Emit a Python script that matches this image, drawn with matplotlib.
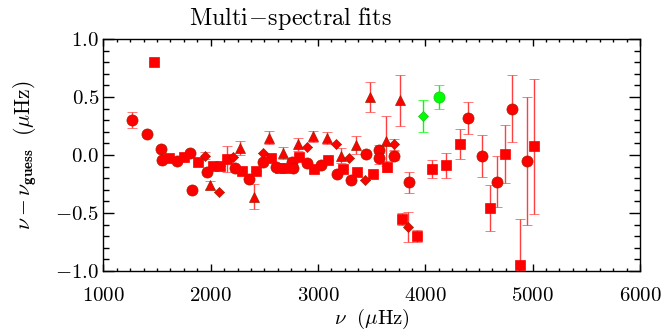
import matplotlib
matplotlib.use('Agg')
import matplotlib.pyplot as plt
from matplotlib.ticker import MultipleLocator

# red circles: frequency (muHz), offset, error
circ_x = [1263, 1408, 1533, 1548, 1688, 1806, 1822, 1961, 2226, 2359, 2490, 2612,
          2754, 2767, 2899, 3024, 3173, 3306, 3443, 3570, 3570, 3707, 3847,
          4400, 4530, 4670, 4804, 4944]
circ_y = [0.30, 0.18, 0.05, -0.043, -0.05, 0.02, -0.30, -0.15, -0.115, -0.21, -0.063, -0.10,
          -0.057, -0.11, -0.072, -0.086, -0.166, -0.22, 0.006, 0.043, -0.03, -0.006, -0.235,
          0.32, -0.01, -0.23, 0.40, -0.05]
circ_e = [0.067, 0, 0, 0, 0, 0, 0, 0, 0, 0, 0, 0,
          0, 0, 0, 0, 0, 0, 0, 0.04, 0.045, 0.04, 0.09,
          0.14, 0.18, 0.22, 0.29, 0.55]

# red squares
sq_x = [1471, 1613, 1750, 1884, 2024, 2086, 2148, 2288, 2421, 2561, 2645, 2692,
        2825, 2962, 3095, 3235, 3365, 3509, 3639, 3779, 3919, 4059, 4189, 4322,
        4602, 4745, 4879, 5015]
sq_y = [0.80, -0.023, -0.015, -0.057, -0.095, -0.095, -0.035, -0.14, -0.14, -0.023, -0.115, -0.115,
        -0.02, -0.12, -0.043, -0.12, -0.15, -0.164, -0.10, -0.55, -0.70, -0.12, -0.09, 0.095,
        -0.457, 0.01, -0.95, 0.075]
sq_e = [0, 0, 0, 0, 0, 0, 0.115, 0, 0, 0, 0, 0,
        0, 0, 0, 0, 0, 0, 0.05, 0.05, 0.05, 0.08, 0.11, 0.13,
        0.195, 0.25, 0.40, 0.58]

# red triangles
tri_x = [1993, 2272, 2403, 2543, 2676, 2816, 2950, 3080, 3213, 3353, 3484, 3630, 3763]
tri_y = [-0.26, 0.06, -0.36, 0.15, 0.015, 0.09, 0.16, 0.145, -0.005, 0.086, 0.50, 0.12, 0.47]
tri_e = [0.035, 0.06, 0.11, 0.06, 0.05, 0.06, 0.05, 0.05, 0.065, 0.08, 0.126, 0.215, 0.22]

# red diamonds
dia_x = [1946, 2079, 2210, 2484, 2894, 3164, 3287, 3437, 3707, 3841]
dia_y = [-0.006, -0.32, -0.02, 0.02, 0.066, 0.095, -0.03, -0.215, 0.09, -0.62]
dia_e = [0.03, 0, 0, 0, 0, 0, 0, 0, 0.05, 0.13]

# green points
grn_dia = (3981, 0.336, 0.14)
grn_circ = (4127, 0.50, 0.10)

xticks = [1000, 2000, 3000, 4000, 5000, 6000]
yticks = [-1.0, -0.5, 0.0, 0.5, 1.0]

plt.rcParams['mathtext.fontset'] = 'cm'
plt.rcParams['font.family'] = 'serif'
plt.rcParams['font.serif'] = ['DejaVu Serif']

fig = plt.figure(figsize=(6.67, 3.30), dpi=100)
ax = fig.add_axes([0.155, 0.179, 0.8045, 0.703])

red = '#ff0000'
ered = '#ff4040'
edge = '#a02000'

def draw(x, y, e, marker, ms, col, ecol, mec):
    ax.errorbar(x, y, yerr=e, fmt=marker, ms=ms, color=col, mfc=col, mec=mec, mew=0.5,
                ecolor=ecol, elinewidth=1.0, capsize=3.5, capthick=1.0, zorder=3)

draw(circ_x, circ_y, circ_e, 'o', 8, red, ered, edge)
draw(sq_x, sq_y, sq_e, 's', 6.5, red, ered, red)
draw(tri_x, tri_y, tri_e, '^', 7.5, red, ered, edge)
draw(dia_x, dia_y, dia_e, 'D', 5.5, red, ered, edge)
draw([grn_dia[0]], [grn_dia[1]], [grn_dia[2]], 'D', 5.5, '#00ff00', '#00ff00', '#20c020')
draw([grn_circ[0]], [grn_circ[1]], [grn_circ[2]], 'o', 8, '#00ff00', '#00ff00', '#20c020')

ax.set_xlim(1000, 6000)
ax.set_ylim(-1.0, 1.0)
ax.xaxis.set_minor_locator(MultipleLocator(125))
ax.yaxis.set_minor_locator(MultipleLocator(0.1))
ax.tick_params(which='both', direction='in', top=True, right=True, width=1.0)
ax.tick_params(axis='x', which='major', length=5, labelsize=15, pad=11)
ax.tick_params(axis='x', which='minor', length=2.5)
ax.tick_params(axis='y', which='major', length=8, labelsize=15, pad=3)
ax.tick_params(axis='y', which='minor', length=4)
for s in ax.spines.values():
    s.set_linewidth(1.0)

ax.set_xticks(xticks)
ax.set_xticklabels([r'$\mathrm{%d}$' % v for v in xticks])
ax.set_yticks(yticks)
ax.set_yticklabels([r'$%.1f$' % v for v in yticks])

fig.text(0.436, 0.945, r'$\mathrm{Multi\!-\!spectral\ fits}$', fontsize=17.5,
         ha='center', va='center')
ax.set_xlabel(r'$\nu\ \ (\mu\mathrm{Hz})$', fontsize=15, labelpad=1)
ax.set_ylabel(r'$\nu-\nu_{\mathbf{guess}}\ \ (\mu\mathrm{Hz})$', fontsize=15.5, labelpad=12)

fig.savefig('out.png', dpi=100)
